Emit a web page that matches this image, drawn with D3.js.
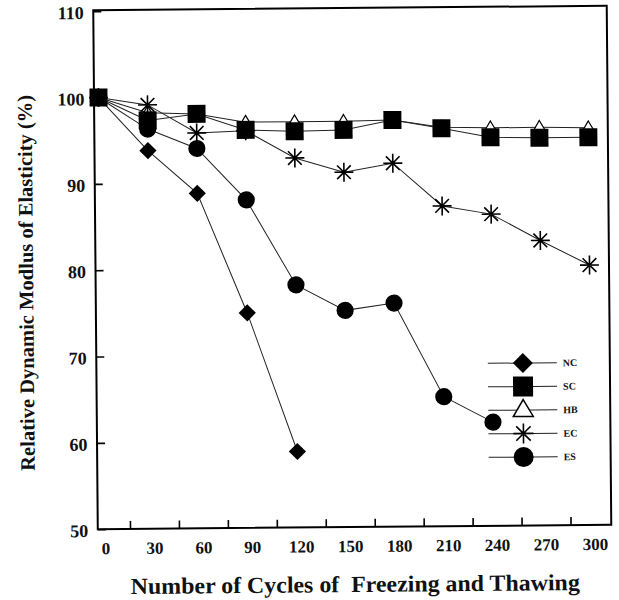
<!DOCTYPE html>
<html>
<head>
<meta charset="utf-8">
<script src="https://cdn.jsdelivr.net/npm/d3@7"></script>
<style>
  body { margin: 0; background: #fff; }
  svg { display: block; }
  text { font-family: "Liberation Serif", "Times New Roman", serif; font-weight: bold; fill: #111; }
</style>
</head>
<body>
<div id="chart"></div>
<script>
// Freeze-thaw cycles and relative dynamic modulus of elasticity (%) per mix
const cycles = [0, 30, 60, 90, 120, 150, 180, 210, 240, 270, 300];
const NC = [100, 93.8, 88.8, 74.9, 58.8];
const SC = [100, 97.3, 98.0, 96.1, 95.9, 96.0, 97.1, 96.1, 95.0, 94.9, 94.9];
const HB = [100, 98.2, 98.0, 97.0, 97.0, 97.0, 97.1, 96.2, 96.1, 96.1, 96.0];
const EC = [100, 99.1, 95.8, 96.0, 92.8, 91.1, 92.1, 87.1, 86.1, 83.0, 80.1];
const ES = [100, 96.3, 94.0, 88.0, 78.1, 75.1, 75.9, 65.0, 62.0];

const seriesNames = ["NC", "SC", "HB", "EC", "ES"];
const yTickValues = [50, 60, 70, 80, 90, 100, 110];
const xLabelValues = [0, 30, 60, 90, 120, 150, 180, 210, 240, 270, 300];
const xTickMarks = [17, 47, 77, 107, 137, 167, 197, 227, 257, 287];

const xTitle = "Number of Cycles of  Freezing and Thawing";
const yTitle = "Relative Dynamic Modlus of Elasticity (%)";

const W = 619, H = 600;
const svg = d3.select("#chart").append("svg").attr("width", W).attr("height", H);
// the whole sheet sits slightly tilted
const g = svg.append("g").attr("transform", "rotate(-0.5,352,267)");

const x = d3.scaleLinear().domain([0, 300]).range([100, 589.5]);
const y = d3.scaleLinear().domain([50, 110]).range([527, 9]);
const frameLeft = 95.5, frameRight = 609;

// marker shapes, r = half size
const shapes = {
  diamond: r => `M0,${-r}L${r},0L0,${r}L${-r},0Z`,
  square: r => `M${-r},${-r}H${r}V${r}H${-r}Z`,
  triangle: r => `M0,${-r * 1.05}L${r},${r * 0.65}L${-r},${r * 0.65}Z`,
  star: r => {
    const d = r * 0.72;
    return `M0,${-r}V${r}M${-r},0H${r}M${-d},${-d}L${d},${d}M${d},${-d}L${-d},${d}`;
  },
  circle: r => `M${r},0A${r},${r} 0 1,1 ${-r},0A${r},${r} 0 1,1 ${r},0Z`
};

const series = [
  { name: "HB", values: HB, shape: "triangle", r: 6.5, fill: "#fff", sw: 1.2 },
  { name: "EC", values: EC, shape: "star", r: 9.5, fill: "none", sw: 1.6 },
  { name: "ES", values: ES, shape: "circle", r: 8.6, fill: "#000", sw: 0 },
  { name: "NC", values: NC, shape: "diamond", r: 8.6, fill: "#000", sw: 0 },
  { name: "SC", values: SC, shape: "square", r: 9, fill: "#000", sw: 0 }
];
series.forEach(s => { s.points = s.values.map((v, i) => ({ c: cycles[i], v })); });

// frame
g.append("rect")
  .attr("x", frameLeft).attr("y", y(110) - 1)
  .attr("width", frameRight - frameLeft).attr("height", y(50) - y(110) + 1)
  .attr("fill", "none").attr("stroke", "#000").attr("stroke-width", 2);

// y axis (ticks pointing inward)
const yAxis = g.append("g").attr("transform", `translate(${frameLeft},0)`)
  .call(d3.axisLeft(y).tickValues(yTickValues).tickSizeInner(-8).tickSizeOuter(0).tickPadding(9.5));
yAxis.select(".domain").remove();
yAxis.selectAll("line").attr("stroke", "#000").attr("stroke-width", 1.6);
yAxis.selectAll("text").attr("font-size", 18).attr("dy", "0.4em")
  .style("font-family", '"Liberation Serif", serif').style("font-weight", "bold").attr("fill", "#111");

// x axis tick marks (inward)
const xTickAxis = g.append("g").attr("transform", `translate(0,${y(50)})`)
  .call(d3.axisBottom(x).tickValues(xTickMarks).tickSizeInner(-8).tickSizeOuter(0).tickFormat(""));
xTickAxis.select(".domain").remove();
xTickAxis.selectAll("line").attr("stroke", "#000").attr("stroke-width", 1.6);

// x axis labels
const xLabelAxis = g.append("g").attr("transform", `translate(3,${y(50)})`)
  .call(d3.axisBottom(x).tickValues(xLabelValues).tickSize(0).tickPadding(13));
xLabelAxis.select(".domain").remove();
xLabelAxis.selectAll("text").attr("font-size", 17)
  .style("font-family", '"Liberation Serif", serif').style("font-weight", "bold").attr("fill", "#111");

// axis titles
g.append("text")
  .attr("x", 352.5).attr("y", 592)
  .attr("text-anchor", "middle").attr("font-size", 23)
  .attr("textLength", 449).attr("lengthAdjust", "spacingAndGlyphs")
  .style("white-space", "pre")
  .text(xTitle);
g.append("text")
  .attr("transform", "translate(33,280) rotate(-90)")
  .attr("text-anchor", "middle").attr("font-size", 20.5)
  .attr("textLength", 376).attr("lengthAdjust", "spacingAndGlyphs")
  .text(yTitle);

// lines
const line = d3.line().x(d => x(d.c)).y(d => y(d.v));
g.append("g").selectAll("path").data(series).join("path")
  .attr("d", s => line(s.points))
  .attr("fill", "none").attr("stroke", "#222").attr("stroke-width", 1);

// markers
series.forEach(s => {
  g.append("g").selectAll("path").data(s.points).join("path")
    .attr("transform", d => `translate(${x(d.c)},${y(d.v)})`)
    .attr("d", shapes[s.shape](s.r))
    .attr("fill", s.fill)
    .attr("stroke", "#000").attr("stroke-width", s.sw);
});

// legend
const legendRows = [
  { name: "NC", shape: "diamond", r: 10, fill: "#000", sw: 0 },
  { name: "SC", shape: "square", r: 10, fill: "#000", sw: 0 },
  { name: "HB", shape: "triangle", r: 10, fill: "#fff", sw: 1.5 },
  { name: "EC", shape: "star", r: 10, fill: "none", sw: 1.6 },
  { name: "ES", shape: "circle", r: 10, fill: "#000", sw: 0 }
].filter(d => seriesNames.includes(d.name));
const legend = g.append("g");
const row = legend.selectAll("g").data(legendRows).join("g")
  .attr("transform", (d, i) => `translate(0,${364.5 + i * 23.5})`);
row.append("line").attr("x1", 487).attr("x2", 556)
  .attr("stroke", "#222").attr("stroke-width", 1);
row.append("path")
  .attr("transform", "translate(522,0)")
  .attr("d", d => shapes[d.shape](d.r))
  .attr("fill", d => d.fill).attr("stroke", "#000").attr("stroke-width", d => d.sw);
row.append("text").attr("x", 562).attr("dy", "0.35em")
  .attr("font-size", 10).text(d => d.name);
</script>
</body>
</html>
